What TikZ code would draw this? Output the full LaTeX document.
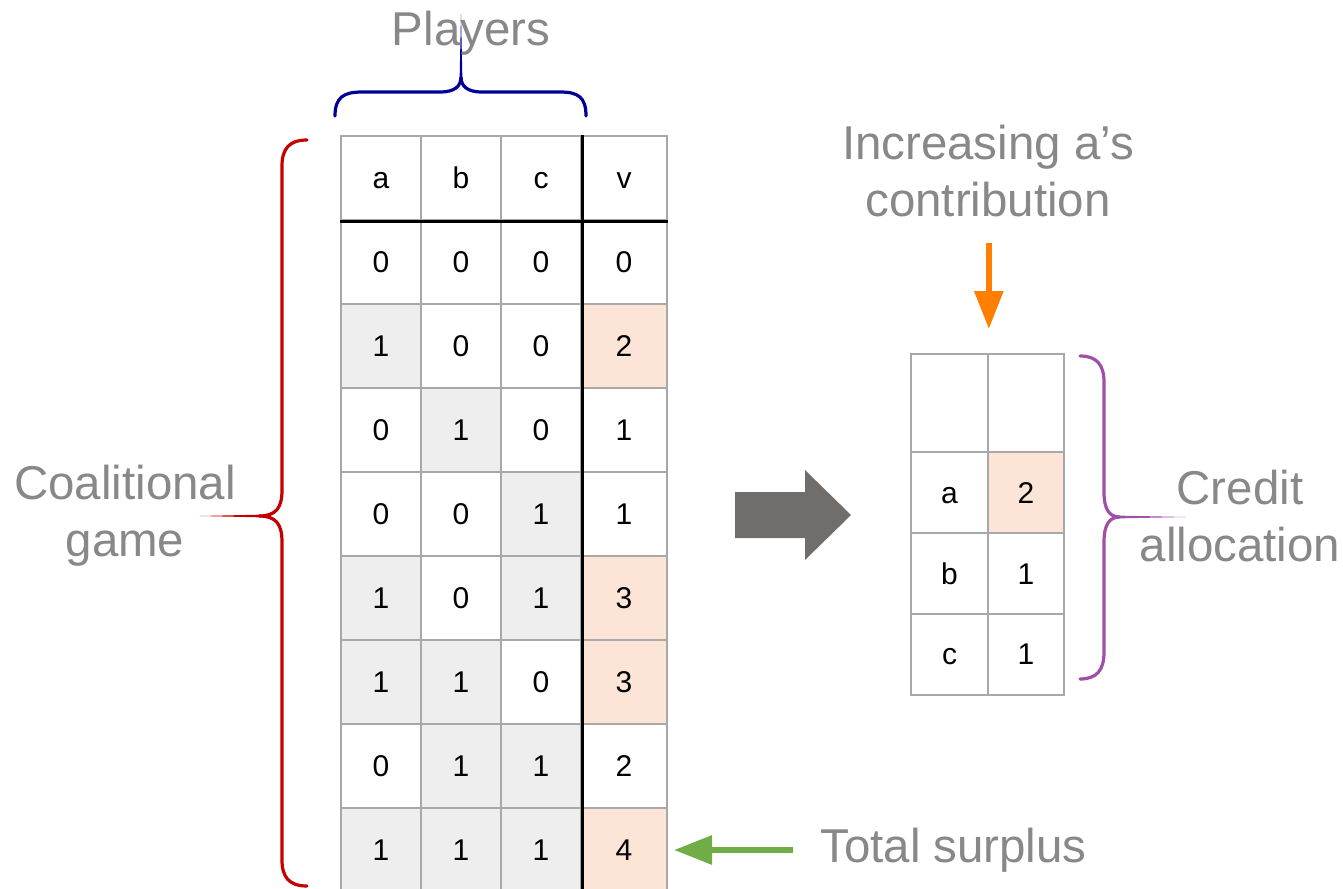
\documentclass[tikz,border=0pt]{standalone}
\usepackage{fontspec}
\setmainfont{Liberation Sans}
\usetikzlibrary{arrows.meta, calc}
\definecolor{gridgray}{HTML}{A8A8A8}
\definecolor{cellgray}{HTML}{EEEEEE}
\definecolor{peach}{HTML}{FCE5D6}
\definecolor{labelgray}{HTML}{888888}
\definecolor{bigarrow}{HTML}{716D6B}
\definecolor{incorange}{HTML}{FF8000}
\definecolor{sumgreen}{HTML}{70AD47}
\definecolor{gamered}{HTML}{C40000}
\definecolor{playerblue}{HTML}{000099}
\definecolor{creditpurple}{HTML}{9E50A6}

\begin{document}
\begin{tikzpicture}[
  x=0.75pt, y=-0.75pt,
  cell/.style  = {draw=gridgray, line width=1.5pt, inner sep=0pt,
                  minimum width=60pt, minimum height=63pt,
                  text height=16.2pt, text depth=0pt,
                  font=\fontsize{22.5}{27}\selectfont},
  c0/.style    = {cell},
  c1/.style    = {cell, fill=cellgray},
  p0/.style    = {cell, minimum width=64.5pt},
  p1/.style    = {p0, fill=peach},
  scell/.style = {cell, minimum width=57.5pt, minimum height=60.75pt},
  rule/.style  = {black, line width=2.25pt},
  lbl/.style   = {text=labelgray, font=\fontsize{35.6}{42.5}\selectfont,
                  align=center, inner sep=0pt},
  brace/.style = {line width=2.4pt, line cap=round},
  incarrow/.style = {incorange, line width=4.5pt,
                     -{Triangle[length=28.5pt, width=21pt]}},
  sumarrow/.style = {sumgreen, line width=4.5pt,
                     -{Triangle[length=28.5pt, width=21pt]}}
]
\useasboundingbox (0,0) rectangle (1343,889);

% coalitional game table
\foreach \lab [count=\i] in {a,b,c}
  \node[cell] (h\i) at (301+80*\i, 178) {\lab};
\node[p0] (h4) at (624,178) {v};

\foreach \a/\b/\c/\v [count=\r] in
  {0/0/0/0, 1/0/0/2, 0/1/0/1, 0/0/1/1, 1/0/1/3, 1/1/0/3, 0/1/1/2, 1/1/1/4} {
  \node[c\a] (r\r-1) at (381, 178+84*\r) {\a};
  \node[c\b] (r\r-2) at (461, 178+84*\r) {\b};
  \node[c\c] (r\r-3) at (541, 178+84*\r) {\c};
  \node[p\a] (r\r-4) at (624, 178+84*\r) {\v};
}
\draw[rule] (h1.south west) -- (h4.south east);
\draw[rule] (h3.north east) -- (r8-3.south east);

% credit allocation table
\node[scell, minimum height=73.5pt] (s0-1) at (949.5,403) {};
\node[scell, minimum height=73.5pt] (s0-2) at (1026,403) {};
\node[scell] (s1-1) at (949.5,492.5) {a};
\node[scell, fill=peach] (s1-2) at (1026,492.5) {2};
\node[scell] (s2-1) at (949.5,573.5) {b};
\node[scell] (s2-2) at (1026,573.5) {1};
\node[scell] (s3-1) at (949.5,654) {c};
\node[scell] (s3-2) at (1026,654) {1};

% big arrow between the tables
\fill[bigarrow] (735,492) -- (805,492) -- (805,470) -- (851,515)
  -- (805,560) -- (805,538) -- (735,538) -- cycle;

% braces
\draw[brace, playerblue] (335,116) .. controls (335,97) and (344,92) .. (362,92)
  -- (440,92) .. controls (455,92) and (461,86) .. (461,77)
  .. controls (461,86) and (467,92) .. (482,92) -- (560,92)
  .. controls (578,92) and (586,97) .. (586,116);
\fill[playerblue] (459.6,80) -- (461,14) -- (462.4,80) -- cycle;

\draw[brace, gamered] (307,140) .. controls (289,140) and (282,149) .. (282,166)
  -- (282,490) .. controls (282,508) and (276,516) .. (259,516)
  .. controls (276,516) and (282,524) .. (282,542) -- (282,860)
  .. controls (282,877) and (289,886) .. (307,886);
\fill[gamered] (263,514.6) -- (200,516) -- (263,517.4) -- cycle;

\draw[brace, creditpurple] (1080,356) .. controls (1097,356) and (1104,365) .. (1104,382)
  -- (1104,492) .. controls (1104,509) and (1109,517) .. (1120,517)
  .. controls (1109,517) and (1104,525) .. (1104,542) -- (1104,652)
  .. controls (1104,670) and (1097,679) .. (1080,679);
\fill[creditpurple] (1118,515.6) -- (1186,517) -- (1118,518.4) -- cycle;

% labels
\node[lbl, anchor=base] (players) at (471,45) {Players};
\node[lbl] (game) at (125,516) {Coalitional\\game};
\node[lbl] (inc) at (988,171) {Increasing a’s\\contribution};
\node[lbl] (credit) at (1240,516) {Credit\\allocation};
\node[lbl, anchor=base west] (tot) at (820,862) {Total surplus};

\coordinate (incfoot) at ($(s0-1.north east)+(0,-110)$);
\draw[incarrow, shorten >=18pt] (incfoot) -- (s0-1.north east);
\draw[sumarrow, shorten <=20pt, shorten >=4.5pt] (tot.west |- r8-4.east) -- (r8-4.east);
\end{tikzpicture}
\end{document}
